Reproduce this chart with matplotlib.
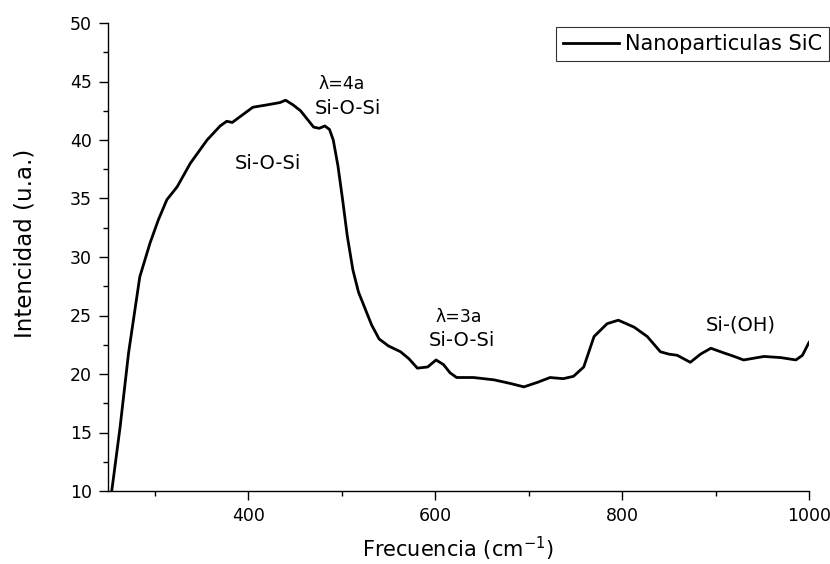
import matplotlib
matplotlib.use("Agg")
import matplotlib.pyplot as plt
from matplotlib.ticker import MultipleLocator

plt.rcParams['font.family'] = ['DejaVu Sans']
plt.rcParams['mathtext.fontset'] = 'dejavusans'

freq = [254, 263, 272, 284, 295, 304, 313, 324, 338, 356, 370, 377, 383, 388, 405,
        420, 434, 440, 448, 456, 464, 470, 476, 482, 487, 491, 496, 501, 506, 512,
        518, 525, 532, 540, 550, 563, 572, 581, 592, 601, 609, 616, 623, 641, 663,
        680, 695, 710, 723, 737, 748, 759, 770, 784, 796, 813, 827, 841, 850, 859,
        873, 884, 895, 909, 920, 930, 952, 970, 986, 993, 1000]
intensity = [10.0, 15.5, 21.8, 28.3, 31.2, 33.2, 34.9, 36.0, 38.0, 40.0, 41.2, 41.6, 41.5, 41.8, 42.8,
             43.0, 43.2, 43.4, 43.0, 42.5, 41.7, 41.1, 41.0, 41.2, 40.9, 40.0, 37.8, 34.9, 31.8, 28.9,
             27.0, 25.6, 24.2, 23.0, 22.4, 21.9, 21.3, 20.5, 20.6, 21.2, 20.8, 20.1, 19.7, 19.7, 19.5,
             19.2, 18.9, 19.3, 19.7, 19.6, 19.8, 20.6, 23.2, 24.3, 24.6, 24.0, 23.2, 21.9, 21.7, 21.6,
             21.0, 21.7, 22.2, 21.8, 21.5, 21.2, 21.5, 21.4, 21.2, 21.6, 22.7]

series_label = "Nanoparticulas SiC"
annotations = [
    ("λ=4a", 500, 44.8, 12.5),
    ("Si-O-Si", 507, 42.7, 14),
    ("Si-O-Si", 421, 38.0, 14),
    ("λ=3a", 625, 24.9, 12.5),
    ("Si-O-Si", 629, 22.9, 14),
    ("Si-(OH)", 927, 24.2, 14),
]

W, H = 830, 564
fig = plt.figure(figsize=(W / 100, H / 100), dpi=100)
ax = fig.add_axes([108 / W, 1 - 491 / H, (809 - 108) / W, (491 - 23) / H])

line, = ax.plot(freq, intensity, color='black', lw=2.0, label=series_label)

ax.set_xlim(250, 1000)
ax.set_ylim(10, 50)
ax.xaxis.set_major_locator(MultipleLocator(200))
ax.xaxis.set_minor_locator(MultipleLocator(100))
ax.yaxis.set_major_locator(MultipleLocator(5))
ax.yaxis.set_minor_locator(MultipleLocator(2.5))
ax.spines['top'].set_visible(False)
ax.spines['right'].set_visible(False)
for s in ('left', 'bottom'):
    ax.spines[s].set_linewidth(1.0)
ax.tick_params(which='major', direction='out', length=6.5, width=1.0, labelsize=12.5, pad=5)
ax.tick_params(which='minor', direction='out', length=3.5, width=1.0)

for txt, x, y, fs in annotations:
    ax.text(x, y, txt, ha='center', va='center', fontsize=fs)

fig.text(458 / W, 1 - 557 / H, r"Frecuencia (cm$^{-1}$)", ha='center', va='baseline', fontsize=15)
fig.text(25 / W, 1 - 243 / H, "Intencidad (u.a.)", ha='center', va='center', rotation=90, fontsize=16.5)

leg = fig.legend(handles=[line], loc='upper left', bbox_to_anchor=(556 / W, 1 - 27 / H),
                 fontsize=15, frameon=True, fancybox=False, borderaxespad=0,
                 handlelength=2.7, handletextpad=0.3, borderpad=0.33)
leg.get_frame().set_edgecolor('black')
leg.get_frame().set_linewidth(0.8)

fig.savefig("out.png", dpi=100)
